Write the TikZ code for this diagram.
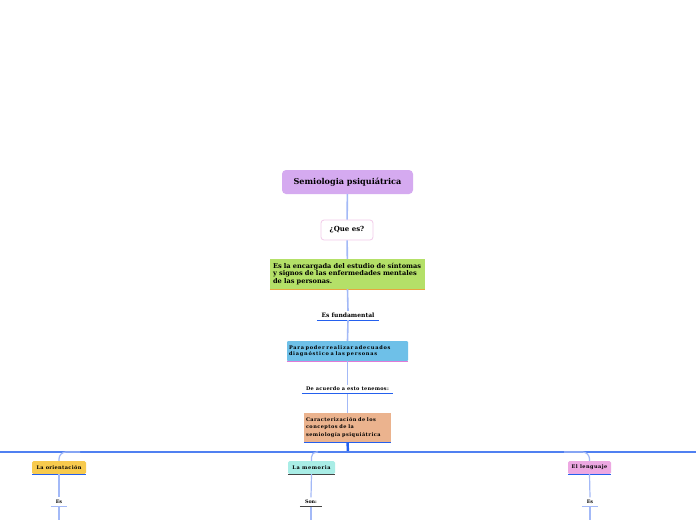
\documentclass[tikz,border=0pt]{standalone}
\usepackage{fontspec}
\setmainfont{DejaVu Serif}
\begin{document}
\begin{tikzpicture}[x=1pt,y=-1pt,
  conn/.style={draw=linkblue,line width=1.6pt},
  box/.style={inner sep=0pt,align=left,font=\bfseries},
  lbl/.style={inner sep=0pt,minimum height=9pt,font=\bfseries},
  uline/.style={line width=1.2pt}
]
\definecolor{linkblue}{HTML}{A3B9F7}
\definecolor{deepblue}{HTML}{2460EE}
\definecolor{mainpurple}{HTML}{D5AAF0}
\definecolor{qpink}{HTML}{F2CBE9}
\definecolor{greenbox}{HTML}{B4E068}
\definecolor{orangeline}{HTML}{E8A640}
\definecolor{bluebox}{HTML}{6EC0E8}
\definecolor{pinkline}{HTML}{E07AD8}
\definecolor{orangebox}{HTML}{EBB38E}
\definecolor{yellowbox}{HTML}{F7CA4E}
\definecolor{cyanbox}{HTML}{A9EDE6}
\definecolor{pinkbox}{HTML}{EDA8E2}
\definecolor{darkgray}{HTML}{444444}
\useasboundingbox[fill=white] (0,0) rectangle (696,520);

% main nodes
\node[box,fill=mainpurple,rounded corners=4pt,minimum width=131pt,minimum height=24pt,align=center,font=\bfseries\fontsize{8.1}{9}\selectfont] (main) at (347.5,182) {Semiologia psiquiátrica};
\node[box,fill=white,draw=qpink,line width=0.8pt,rounded corners=3pt,minimum width=52pt,minimum height=20pt,align=center,font=\bfseries\fontsize{7}{8}\selectfont] (que) at (347,230) {¿Que es?};
\node[box,fill=greenbox,minimum width=155pt,minimum height=30pt,text width=149pt,font=\bfseries\fontsize{6.6}{7.4}\selectfont] (def) at (347.5,274) {Es la encargada del estudio de síntomas\\ y signos de las enfermedades mentales\\ de las personas.};
\node[lbl,minimum width=62pt,font=\bfseries\fontsize{6}{7}\selectfont] (fund) at (348,315.5) {Es fundamental};
\node[box,fill=bluebox,rounded corners=1pt,minimum width=121pt,minimum height=20pt,text width=117pt,font=\bfseries\fontsize{5}{6.6}\selectfont] (para) at (347.5,351) {\addfontfeatures{LetterSpace=15}Para poder realizar adecuados\\ diagnóstico a las personas};
\node[lbl,minimum width=91pt,font=\bfseries\fontsize{5}{6}\selectfont] (acu) at (347.5,389) {\addfontfeatures{LetterSpace=5}De acuerdo a esto tenemos:};
\node[box,fill=orangebox,minimum width=87pt,minimum height=29pt,text width=83pt,font=\bfseries\fontsize{5}{7.2}\selectfont] (car) at (347.5,427.5) {\addfontfeatures{LetterSpace=9}Caracterización de los\\ conceptos de la\\ semiología psiquiátrica};

% underlines
\draw[orangeline,uline] (def.south west) -- (def.south east);
\draw[deepblue,uline] (fund.south west) -- (fund.south east);
\draw[pinkline,uline] (para.south west) -- (para.south east);
\draw[deepblue,uline] (acu.south west) -- (acu.south east);
\draw[deepblue,uline] (car.south west) -- (car.south east);

% connectors
\draw[conn] (main) -- (que);
\draw[conn] (que) -- (def);
\draw[conn] (def.south) -- (fund.north);
\draw[conn] (fund.south) -- (para.north);
\draw[conn] (para.south) -- ([yshift=-1pt]acu.north);
\draw[conn] (acu.south) -- (car.north);

% bus
\coordinate (bus) at (348,452);
\coordinate (busL) at (0,452);
\coordinate (busR) at (696,452);
\draw[deepblue,line width=2.4pt] (car.south) -- (bus);
\draw[deepblue!80!white,line width=1.4pt] (busL) -- (busR);

% children
\node[box,fill=yellowbox,rounded corners=1.5pt,minimum width=54pt,minimum height=13pt,align=center,font=\bfseries\fontsize{5}{6}\selectfont] (ori) at (59,467.5) {\addfontfeatures{LetterSpace=7}La orientación};
\node[box,fill=cyanbox,rounded corners=1.5pt,minimum width=47pt,minimum height=13pt,align=center,font=\bfseries\fontsize{5}{6}\selectfont] (mem) at (311.5,467.5) {\addfontfeatures{LetterSpace=12}La memoria};
\node[box,fill=pinkbox,rounded corners=1.5pt,minimum width=43pt,minimum height=13pt,align=center,font=\bfseries\fontsize{5}{6}\selectfont] (len) at (589.5,467.5) {\addfontfeatures{LetterSpace=9}El lenguaje};
\draw[deepblue,uline] (ori.south west) -- (ori.south east);
\draw[darkgray,uline] (mem.south west) -- (mem.south east);
\draw[deepblue,uline] (len.south west) -- (len.south east);

\coordinate (bori) at (80,452);
\coordinate (bmem) at (318,452);
\coordinate (blen) at (564,452);
\draw[conn,line width=1.2pt,rounded corners=7pt] (bori) -| (ori.north);
\draw[conn,line width=1.2pt,rounded corners=5pt] (bmem) -| (mem.north);
\draw[conn,line width=1.2pt,rounded corners=7pt] (blen) -| (len.north);

\node[lbl,minimum width=16pt,font=\bfseries\fontsize{4.8}{6}\selectfont] (es1) at (59,502) {Es};
\node[lbl,minimum width=22pt,font=\bfseries\fontsize{4.8}{6}\selectfont] (son) at (311,502) {Son:};
\node[lbl,minimum width=16pt,font=\bfseries\fontsize{4.8}{6}\selectfont] (es2) at (590,502) {Es};
\draw[linkblue,uline] (es1.south west) -- (es1.south east);
\draw[darkgray,uline] (son.south west) -- (son.south east);
\draw[linkblue,uline] (es2.south west) -- (es2.south east);

\draw[conn,line width=1.2pt] (ori.south) -- (es1.north);
\draw[conn,line width=1.2pt] (mem.south) -- (son.north);
\draw[conn,line width=1.2pt] (len.south) -- (es2.north);
\coordinate (e1) at (59,520);
\coordinate (e2) at (311,520);
\coordinate (e3) at (590,520);
\draw[conn,line width=1.2pt] (es1.south) -- (e1);
\draw[conn,line width=1.2pt] (son.south) -- (e2);
\draw[conn,line width=1.2pt] (es2.south) -- (e3);
\end{tikzpicture}
\end{document}
